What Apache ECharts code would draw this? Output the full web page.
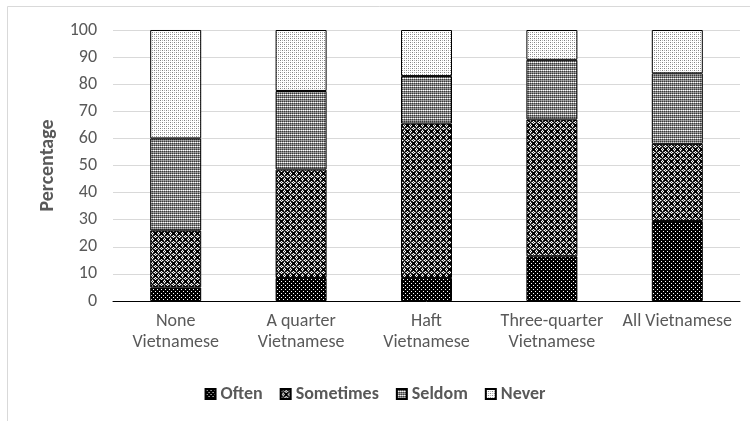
<!DOCTYPE html>
<html>
<head>
<meta charset="utf-8">
<script src="https://cdn.jsdelivr.net/npm/echarts@6/dist/echarts.min.js"></script>
<style>
  html, body { margin: 0; padding: 0; background: #fff; }
  #chart { width: 750px; height: 421px; }
</style>
</head>
<body>
<div id="chart"></div>
<script>
// Share of each answer by household language mix (stacked to 100%)
const categories = ['None\nVietnamese', 'A quarter\nVietnamese', 'Haft\nVietnamese', 'Three-quarter\nVietnamese', 'All Vietnamese'];
const often     = [5, 8.5, 8.5, 16.5, 29.5];
const sometimes = [21, 40, 57, 50.5, 28.5];
const seldom    = [34, 29, 17.5, 22, 26];
const never     = [40, 22.5, 17, 11, 16];
const yTicks    = { min: 0, max: 100, step: 10 };

const FONT = "'Carlito', 'Liberation Sans', sans-serif";
const TEXT = '#595959';

// Build a repeating bitmap fill from a tiny pixel map
function tile(rows, palette) {
  const h = rows.length, w = rows[0].length;
  const c = document.createElement('canvas');
  c.width = w; c.height = h;
  const ctx = c.getContext('2d');
  for (let y = 0; y < h; y++) {
    for (let x = 0; x < w; x++) {
      ctx.fillStyle = palette[rows[y][x]];
      ctx.fillRect(x, y, 1, 1);
    }
  }
  return { image: c, repeat: 'repeat' };
}

const pal = { B: '#000000', D: '#3a3a3a', G: '#808080', L: '#b4b4b4', W: '#ffffff' };

const fillOften = tile([
  'BBBB',
  'BWBB',
  'BBBB',
  'BBBW'
], pal);

const fillSometimes = tile([
  'BDWDBB',
  'DBGBDW',
  'WGBGWD',
  'DBGBDW',
  'BDWDBB',
  'BWDWBB'
], pal);

const fillSeldom = tile([
  'GLGL',
  'DGDG',
  'LWLW',
  'DGDG'
], pal);

const fillNever = tile([
  'GWLW',
  'WWWW',
  'LWGW',
  'WWWW'
], pal);

function seriesOf(name, data, fill) {
  return {
    name: name,
    type: 'bar',
    stack: 'total',
    barWidth: 51,
    data: data,
    itemStyle: { color: fill, borderColor: '#000', borderWidth: 1 },
    emphasis: { disabled: true }
  };
}

const chart = echarts.init(document.getElementById('chart'), null, { renderer: 'canvas' });
chart.setOption({
  animation: false,
  backgroundColor: '#fff',
  graphic: [{
    type: 'rect',
    shape: { x: 7.5, y: 6.5, width: 800, height: 500 },
    style: { fill: 'none', stroke: '#d9d9d9', lineWidth: 1 },
    silent: true
  }],
  grid: { left: 113, right: 10, top: 30, bottom: 120, containLabel: false },
  legend: {
    top: 380,
    left: 'center',
    itemWidth: 10,
    itemHeight: 10,
    itemGap: 17,
    icon: 'rect',
    textStyle: { fontFamily: FONT, fontSize: 18, fontWeight: 'bold', color: TEXT, padding: [0, 0, 0, 0] },
    data: ['Often', 'Sometimes', 'Seldom', 'Never']
  },
  xAxis: {
    type: 'category',
    data: categories,
    axisLine: { lineStyle: { color: '#000', width: 1 } },
    axisTick: { show: false },
    axisLabel: { fontFamily: FONT, fontSize: 18, color: TEXT, lineHeight: 21, margin: 10, interval: 0 }
  },
  yAxis: {
    type: 'value',
    min: yTicks.min,
    max: yTicks.max,
    interval: yTicks.step,
    name: 'Percentage',
    nameLocation: 'middle',
    nameGap: 55,
    nameTextStyle: { fontFamily: FONT, fontSize: 20, fontWeight: 'bold', color: TEXT },
    axisLine: { show: false },
    axisTick: { show: false },
    splitLine: { lineStyle: { color: '#d9d9d9', width: 1 } },
    axisLabel: { fontFamily: FONT, fontSize: 18, color: TEXT, margin: 16 }
  },
  series: [
    seriesOf('Often', often, fillOften),
    seriesOf('Sometimes', sometimes, fillSometimes),
    seriesOf('Seldom', seldom, fillSeldom),
    seriesOf('Never', never, fillNever)
  ]
});
</script>
</body>
</html>
